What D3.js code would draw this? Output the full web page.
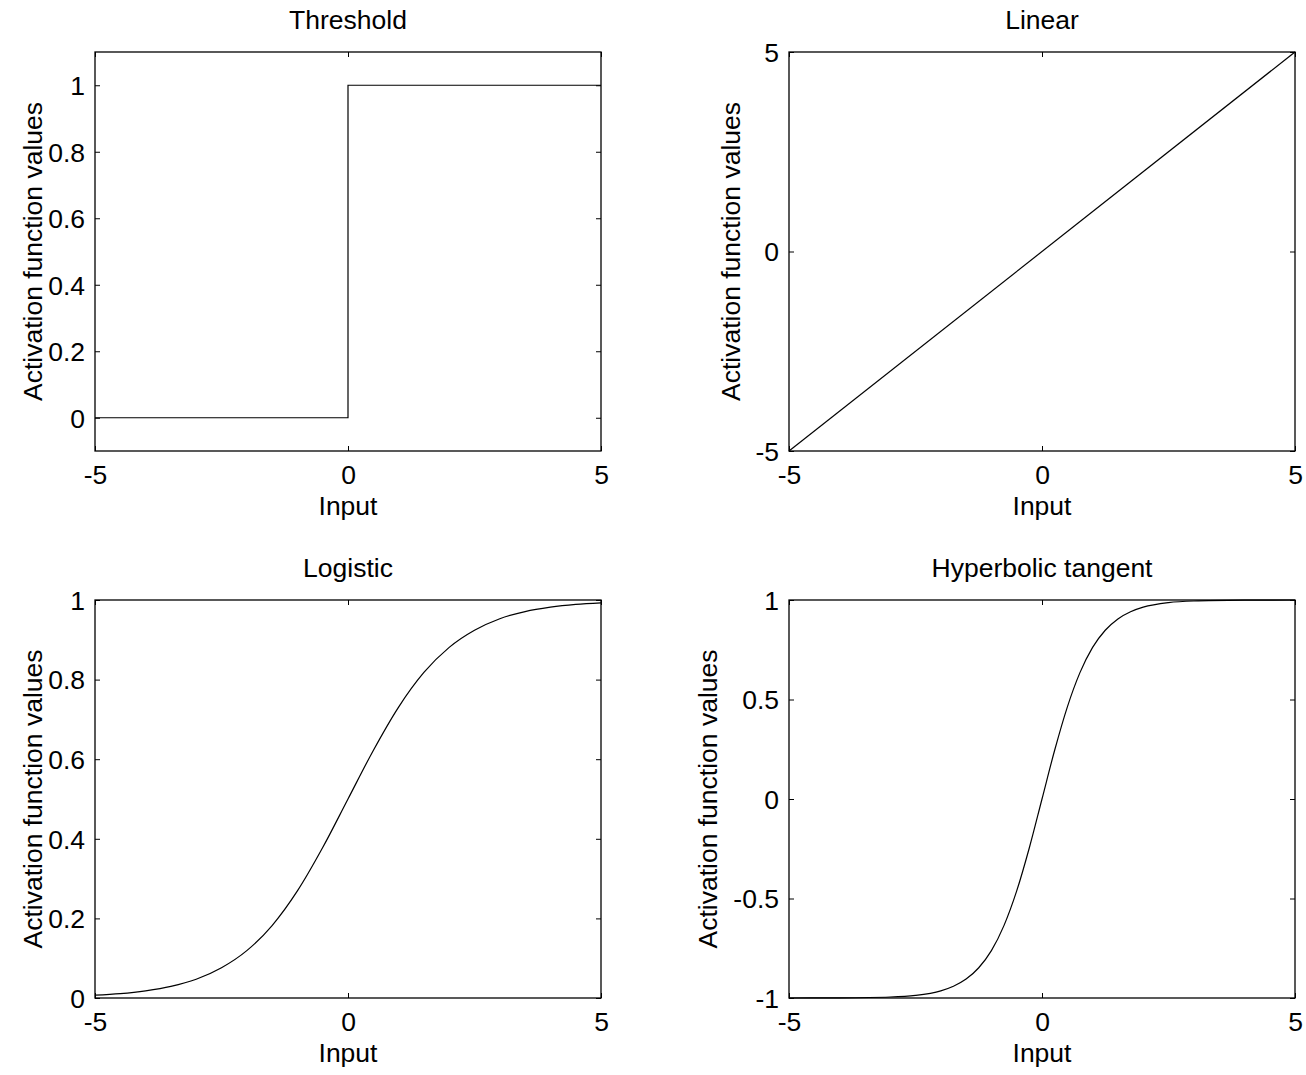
<!DOCTYPE html>
<html>
<head>
<meta charset="utf-8">
<script src="https://cdn.jsdelivr.net/npm/d3@7"></script>
<style>
  body { margin: 0; background: #fff; }
  svg text { font-family: "Liberation Sans", Arial, Helvetica, sans-serif; fill: #000; }
</style>
</head>
<body>
<div id="chart"></div>
<script>
'use strict';

// chart data
var inputTicks = [-5, 0, 5];

var thresholdX = [-5, 0, 0, 5];
var thresholdY = [0, 0, 1, 1];
var thresholdTicks = [0, 0.2, 0.4, 0.6, 0.8, 1];

var linearX = [-5, 5];
var linearY = [-5, 5];
var linearTicks = [-5, 0, 5];

var logisticX = [-5, -4.5, -4, -3.5, -3, -2.5, -2, -1.5, -1, -0.5, 0, 0.5, 1, 1.5, 2, 2.5, 3, 3.5, 4, 4.5, 5];
var logisticY = [0.007, 0.011, 0.018, 0.029, 0.047, 0.076, 0.119, 0.182, 0.269, 0.378, 0.5, 0.622, 0.731, 0.818, 0.881, 0.924, 0.953, 0.971, 0.982, 0.989, 0.993];
var logisticTicks = [0, 0.2, 0.4, 0.6, 0.8, 1];

var tanhX = [-5, -4, -3, -2.5, -2, -1.75, -1.5, -1.25, -1, -0.75, -0.5, -0.25, 0, 0.25, 0.5, 0.75, 1, 1.25, 1.5, 1.75, 2, 2.5, 3, 4, 5];
var tanhY = [-1, -0.999, -0.995, -0.987, -0.964, -0.941, -0.905, -0.848, -0.762, -0.635, -0.462, -0.245, 0, 0.245, 0.462, 0.635, 0.762, 0.848, 0.905, 0.941, 0.964, 0.987, 0.995, 0.999, 1];
var tanhTicks = [-1, -0.5, 0, 0.5, 1];

var W = 1306, H = 1075;
var fontSize = 26.5;

var panels = [
    { title: 'Threshold', xs: thresholdX, ys: thresholdY, yDomain: [-0.1, 1.1], yTicks: thresholdTicks,
      left: 95, top: 52, width: 506, height: 399, labelX: 42 },
    { title: 'Linear', xs: linearX, ys: linearY, yDomain: [-5, 5], yTicks: linearTicks,
      left: 789, top: 52, width: 506, height: 399, labelX: 740 },
    { title: 'Logistic', xs: logisticX, ys: logisticY, yDomain: [0, 1], yTicks: logisticTicks,
      left: 95, top: 600, width: 506, height: 398, labelX: 42 },
    { title: 'Hyperbolic tangent', xs: tanhX, ys: tanhY, yDomain: [-1, 1], yTicks: tanhTicks,
      left: 789, top: 600, width: 506, height: 398, labelX: 717 }
];

var svg = d3.select('#chart')
    .append('svg')
    .attr('width', W)
    .attr('height', H);

function fmt(d) {
    return String(d);
}

function drawPanel(p) {
    var x = d3.scaleLinear().domain([-5, 5]).range([0, p.width]);
    var y = d3.scaleLinear().domain(p.yDomain).range([p.height, 0]);
    var tick = 5;

    var g = svg.append('g').attr('transform', 'translate(' + p.left + ',' + p.top + ')');

    // inward ticks on all four sides, labels only left and bottom
    var bottom = g.append('g')
        .attr('transform', 'translate(0,' + p.height + ')')
        .call(d3.axisBottom(x).tickValues(inputTicks).tickFormat(fmt)
            .tickSizeInner(-tick).tickSizeOuter(0).tickPadding(14));
    var topAx = g.append('g')
        .call(d3.axisTop(x).tickValues(inputTicks).tickFormat('')
            .tickSizeInner(-tick).tickSizeOuter(0));
    var leftAx = g.append('g')
        .call(d3.axisLeft(y).tickValues(p.yTicks).tickFormat(fmt)
            .tickSizeInner(-tick).tickSizeOuter(0).tickPadding(10));
    var rightAx = g.append('g')
        .attr('transform', 'translate(' + p.width + ',0)')
        .call(d3.axisRight(y).tickValues(p.yTicks).tickFormat('')
            .tickSizeInner(-tick).tickSizeOuter(0));

    [bottom, topAx, leftAx, rightAx].forEach(function(a) {
        a.select('.domain').remove();
        a.selectAll('line').attr('stroke', '#000').attr('stroke-width', 1);
        a.selectAll('text')
            .attr('font-size', fontSize)
            .attr('font-family', '"Liberation Sans", Arial, sans-serif')
            .attr('fill', '#000');
    });
    bottom.selectAll('text').attr('dy', '0.71em');
    leftAx.selectAll('text').attr('dy', '0.35em');

    var line = d3.line()
        .x(function(d) { return x(d[0]); })
        .y(function(d) { return y(d[1]); });
    if (p.xs.length > 4) line.curve(d3.curveMonotoneX);

    g.append('path')
        .datum(d3.zip(p.xs, p.ys))
        .attr('d', line)
        .attr('fill', 'none')
        .attr('stroke', '#000')
        .attr('stroke-width', 1.2);

    g.append('rect')
        .attr('x', 0).attr('y', 0)
        .attr('width', p.width).attr('height', p.height)
        .attr('fill', 'none')
        .attr('stroke', '#000')
        .attr('stroke-width', 1.3);

    g.append('text')
        .attr('x', p.width / 2)
        .attr('y', -23)
        .attr('text-anchor', 'middle')
        .attr('font-size', fontSize)
        .text(p.title);

    g.append('text')
        .attr('x', p.width / 2)
        .attr('y', p.height + 64)
        .attr('text-anchor', 'middle')
        .attr('font-size', fontSize)
        .text('Input');

    svg.append('text')
        .attr('transform', 'translate(' + p.labelX + ',' + (p.top + p.height / 2) + ') rotate(-90)')
        .attr('text-anchor', 'middle')
        .attr('font-size', fontSize)
        .text('Activation function values');
}

panels.forEach(drawPanel);
</script>
</body>
</html>
